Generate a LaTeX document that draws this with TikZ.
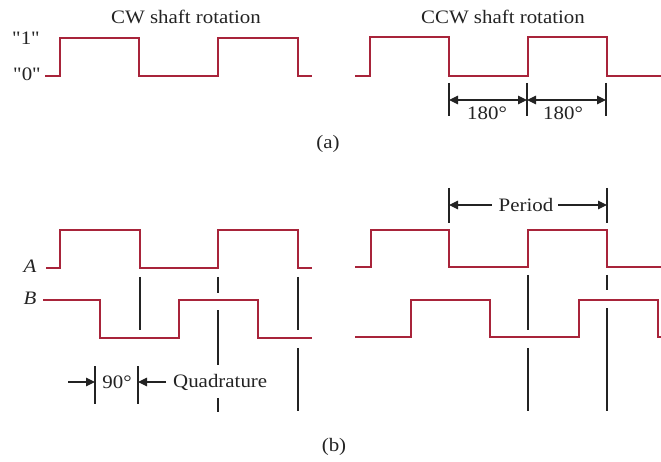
\documentclass[tikz,border=0pt]{standalone}
\usepackage{fontspec}
\setmainfont{Liberation Serif}[FakeStretch=1.1,Ligatures=TeXOff]
\usetikzlibrary{arrows.meta}
\definecolor{wavec}{RGB}{168,36,58}
\definecolor{ink}{RGB}{35,35,35}
\begin{document}
\begin{tikzpicture}[x=1pt,y=-1pt,
  wave/.style={draw=wavec,line width=1.6pt,line join=miter},
  guide/.style={draw=ink,line width=1.2pt},
  dimarrow/.style={draw=ink,line width=1.2pt,-{Triangle[length=9pt,width=8.5pt]}},
  dimboth/.style={draw=ink,line width=1.2pt,{Triangle[length=9pt,width=8.5pt]}-{Triangle[length=9pt,width=8.5pt]}},
  lbl/.style={font=\fontsize{19}{22}\selectfont,text=ink,inner sep=0pt},
  ilbl/.style={font=\fontsize{19}{22}\selectfont\itshape,text=ink,inner sep=0pt}]
\useasboundingbox[fill=white] (0,0) rectangle (661,462);

% ---------- (a) ----------
\node[lbl] (cw) at (186,17) {CW shaft rotation};
\node[lbl] (ccw) at (503,17) {CCW shaft rotation};
\node[lbl] (one) at (26,38) {"1"};
\node[lbl] (zero) at (27,74) {"0"};

\draw[wave] (45,76) -- (60,76) -- (60,38) -- (139,38) -- (139,76) -- (218,76) -- (218,38) -- (298,38) -- (298,76) -- (312,76);
\draw[wave] (355,76) -- (370,76) -- (370,37) -- (449,37) -- (449,76) -- (528,76) -- (528,37) -- (607,37) -- (607,76) -- (661,76);

\coordinate (ta1) at (449,83); \coordinate (tb1) at (449,116);
\coordinate (ta2) at (527,83); \coordinate (tb2) at (527,116);
\coordinate (ta3) at (606,83); \coordinate (tb3) at (606,116);
\draw[guide] (ta1) -- (tb1);
\draw[guide] (ta2) -- (tb2);
\draw[guide] (ta3) -- (tb3);
\coordinate (h1) at (449,100); \coordinate (h2) at (527,100); \coordinate (h3) at (606,100);
\draw[dimboth] (h1) -- (h2);
\draw[dimboth] (h2) -- (h3);
\node[lbl] (d1) at (487,113) {180°};
\node[lbl] (d2) at (563,113) {180°};
\node[lbl] (capa) at (328,144) {(a)};

% ---------- (b) ----------
\node[ilbl] (la) at (30,266) {A};
\node[ilbl] (lb) at (30,298) {B};

\draw[wave] (46,268) -- (60,268) -- (60,230) -- (140,230) -- (140,268) -- (218,268) -- (218,230) -- (298,230) -- (298,268) -- (312,268);
\draw[wave] (43,300) -- (100,300) -- (100,338) -- (179,338) -- (179,300) -- (258,300) -- (258,338) -- (312,338);
\draw[wave] (355,267) -- (371,267) -- (371,230) -- (449,230) -- (449,267) -- (528,267) -- (528,230) -- (607,230) -- (607,267) -- (661,267);
\draw[wave] (355,337) -- (411,337) -- (411,300) -- (490,300) -- (490,337) -- (579,337) -- (579,300) -- (658,300) -- (658,337) -- (661,337);

% guide lines left
\draw[guide] (140,277) -- (140,330);
\draw[guide] (218,277) -- (218,293);
\draw[guide] (218,310) -- (218,365);
\draw[guide] (218,398) -- (218,412);
\draw[guide] (298,277) -- (298,330);
\draw[guide] (298,348) -- (298,411);
% guide lines right
\draw[guide] (528,275) -- (528,330);
\draw[guide] (528,348) -- (528,411);
\draw[guide] (607,275) -- (607,290);
\draw[guide] (607,308) -- (607,411);

% period
\coordinate (pt1) at (449,188); \coordinate (pb1) at (449,223);
\coordinate (pt2) at (607,188); \coordinate (pb2) at (607,223);
\draw[guide] (pt1) -- (pb1);
\draw[guide] (pt2) -- (pb2);
\node[lbl] (period) at (526,205) {Period};
\coordinate (pl) at (449,205); \coordinate (pr) at (607,205);
\draw[dimarrow] ([xshift=-7pt]period.west) -- (pl);
\draw[dimarrow] ([xshift=5pt]period.east) -- (pr);

% quadrature
\coordinate (qt1) at (95,366); \coordinate (qb1) at (95,404);
\coordinate (qt2) at (138,366); \coordinate (qb2) at (138,404);
\draw[guide] (qt1) -- (qb1);
\draw[guide] (qt2) -- (qb2);
\coordinate (qs1) at (68,382); \coordinate (qe1) at (95,382);
\coordinate (qe2) at (138,382);
\node[lbl] (ninety) at (117,382) {90°};
\node[lbl,anchor=west] (quad) at (173,382) {Quadrature};
\draw[dimarrow] (qs1) -- (qe1);
\draw[dimarrow] ([xshift=-7pt]quad.west) -- (qe2);

\node[lbl] (capb) at (334,447) {(b)};
\end{tikzpicture}
\end{document}
